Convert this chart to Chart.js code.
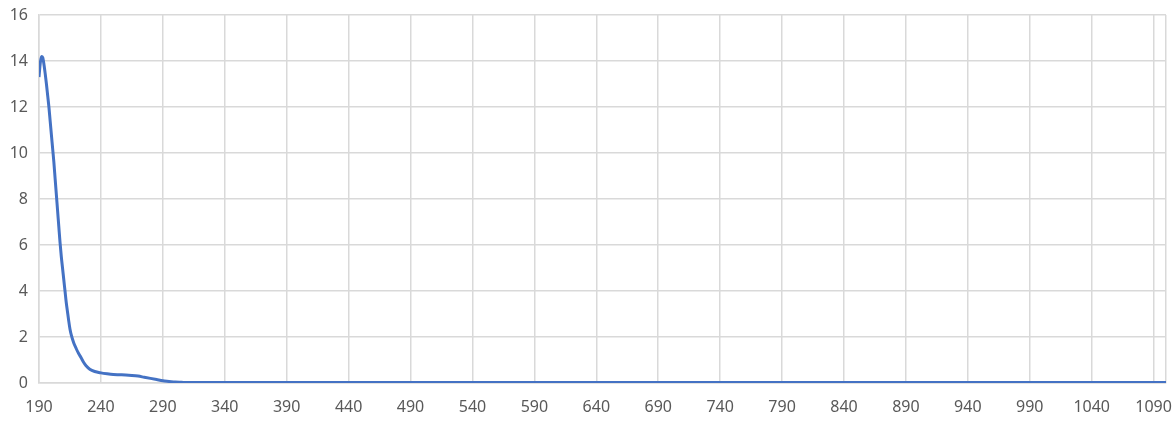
<!DOCTYPE html>
<html lang="en">
  <head>
    <meta charset="UTF-8" />
    <title>Absorbance spectrum</title>
    <script src="https://cdn.jsdelivr.net/npm/chart.js@4/dist/chart.umd.min.js"></script>
    <style>
      html, body {
        margin: 0;
        padding: 0;
        background: #ffffff;
      }
      .chart-container {
        position: relative;
        width: 1176px;
        height: 432px;
      }
    </style>
  </head>
  <body>
    <div class="chart-container">
      <canvas id="spectrumChart"></canvas>
    </div>

    <script>
      // wavelength (nm) and value
      const wavelengths = [
        190, 191, 192, 193, 194, 195, 196, 197, 198, 199,
        200, 201, 202, 203, 204, 205, 206, 207, 208, 209,
        210, 211, 212, 213, 214, 215, 216, 218, 220, 222,
        224, 226, 228, 231, 235, 240, 245, 250, 255, 260,
        265, 270, 275, 280, 285, 290, 295, 300, 305, 310,
        320, 400, 500, 600, 700, 800, 900, 1000, 1100
      ]
      const absorbance = [
        13.3, 13.9, 14.2, 14.15, 13.85, 13.45, 13.0, 12.5, 12.0, 11.4,
        10.8, 10.2, 9.6, 8.9, 8.2, 7.5, 6.8, 6.1, 5.5, 5.0,
        4.5, 4.0, 3.5, 3.1, 2.7, 2.35, 2.1, 1.75, 1.5, 1.28,
        1.1, 0.9, 0.75, 0.6, 0.5, 0.44, 0.4, 0.37, 0.36, 0.35,
        0.33, 0.3, 0.25, 0.2, 0.15, 0.1, 0.07, 0.04, 0.03, 0.02,
        0.02, 0.02, 0.02, 0.02, 0.02, 0.02, 0.02, 0.02, 0.02
      ]

      // axis ticks
      const xTicks = [
        190, 240, 290, 340, 390, 440, 490, 540, 590, 640,
        690, 740, 790, 840, 890, 940, 990, 1040, 1090, 1100
      ]
      const xTickLabels = [
        '190', '240', '290', '340', '390', '440', '490', '540', '590', '640',
        '690', '740', '790', '840', '890', '940', '990', '1040', '1090', ''
      ]
      const yTicks = [0, 2, 4, 6, 8, 10, 12, 14, 16]

      const gridColor = '#d9d9d9'
      const textColor = '#595959'
      const fontFamily = '"Noto Sans", "DejaVu Sans", sans-serif'

      const points = wavelengths.map((x, i) => ({ x: x, y: absorbance[i] }))

      // keep the plot area fixed, label overflow must not shrink it
      function noOverflow(scale) {
        scale.paddingTop = 0
        scale.paddingBottom = 0
        scale.paddingLeft = 0
        scale.paddingRight = 0
      }

      const ctx = document.getElementById('spectrumChart').getContext('2d')
      new Chart(ctx, {
        type: 'line',
        data: {
          datasets: [
            {
              data: points,
              borderColor: '#4472c4',
              borderWidth: 3,
              pointRadius: 0,
              fill: false,
              cubicInterpolationMode: 'monotone'
            }
          ]
        },
        options: {
          responsive: true,
          maintainAspectRatio: false,
          animation: false,
          layout: {
            padding: { left: 0, right: 10, top: 15, bottom: 0 }
          },
          plugins: {
            legend: { display: false },
            tooltip: { enabled: false }
          },
          scales: {
            x: {
              type: 'linear',
              min: 190,
              max: 1100,
              afterBuildTicks: scale => {
                scale.ticks = xTicks.map(v => ({ value: v }))
              },
              afterFit: scale => {
                scale.height = 49
                noOverflow(scale)
              },
              grid: {
                color: gridColor,
                lineWidth: 1.5,
                drawTicks: false
              },
              border: { color: gridColor, width: 1.5 },
              ticks: {
                padding: 15,
                maxRotation: 0,
                autoSkip: false,
                color: textColor,
                font: { family: fontFamily, size: 16 },
                callback: (value, index) => xTickLabels[index]
              }
            },
            y: {
              min: 0,
              max: 16,
              afterBuildTicks: scale => {
                scale.ticks = yTicks.map(v => ({ value: v }))
              },
              afterFit: scale => {
                scale.width = 39
                noOverflow(scale)
              },
              grid: {
                color: gridColor,
                lineWidth: 1.5,
                drawTicks: false
              },
              border: { color: gridColor, width: 1.5 },
              ticks: {
                padding: 11,
                color: textColor,
                font: { family: fontFamily, size: 16 }
              }
            }
          }
        }
      })
    </script>
  </body>
</html>
